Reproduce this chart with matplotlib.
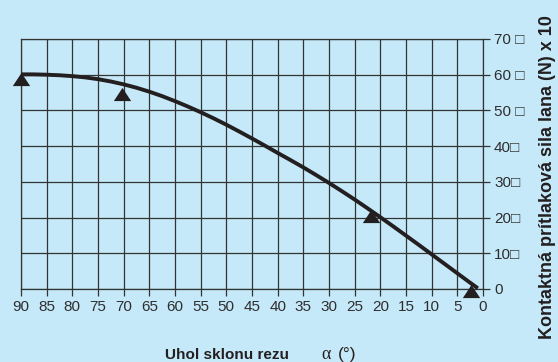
import matplotlib
matplotlib.use("Agg")
import matplotlib.pyplot as plt

# Data
curve_angle = [90, 87.5, 85, 82.5, 80, 77.5, 75, 72.5, 70, 67.5, 65, 62.5, 60, 57.5, 55, 52.5,
               50, 47.5, 45, 42.5, 40, 37.5, 35, 32.5, 30, 27.5, 25, 22.5, 20, 17.5, 15, 12.5,
               10, 7.5, 5, 2.5, 1.0]
curve_force = [60.1, 60.1, 60.0, 59.85, 59.6, 59.25, 58.75, 58.1, 57.3, 56.35, 55.25, 54.0, 52.6, 51.1, 49.5, 47.8,
               46.0, 44.1, 42.15, 40.15, 38.1, 36.1, 34.05, 31.9, 29.7, 27.4, 25.05, 22.6, 20.1, 17.55, 14.95, 12.35,
               9.7, 7.05, 4.4, 1.75, 0.2]
marker_angle = [90, 70.3, 21.8, 2.3]
marker_force = [58.7, 54.5, 20.5, -0.6]
x_ticks = [90, 85, 80, 75, 70, 65, 60, 55, 50, 45, 40, 35, 30, 25, 20, 15, 10, 5, 0]
y_ticks = [0, 10, 20, 30, 40, 50, 60, 70]
y_tick_labels = ["0", "10\u25a1", "20\u25a1", "30\u25a1", "40\u25a1", "50 \u25a1", "60 \u25a1", "70 \u25a1"]
x_label = "Uhol sklonu rezu"
x_label_sym = "\u03b1"
x_label_unit = "(°)"
y_label = "Kontaktná prítlaková sila lana (N) x 10"

bg = "#c6e9f9"
ink = "#231f20"
grid_c = "#333333"

plt.rcParams['font.family'] = ['Liberation Sans', 'DejaVu Sans']

fig = plt.figure(figsize=(5.58, 3.62), dpi=100, facecolor=bg)
ax = fig.add_axes([21/558, 1-289/362, (483-21)/558, (289-39)/362])
ax.set_facecolor(bg)

ax.set_xlim(90, 0)
ax.set_ylim(0, 70)

ax.set_xticks(x_ticks)
ax.set_xticklabels([str(v) for v in x_ticks])
ax.set_yticks(y_ticks)
ax.set_yticklabels(y_tick_labels)
ax.yaxis.tick_right()
ax.tick_params(axis='both', direction='out', length=5, width=0.9, color=grid_c,
               labelsize=11, labelcolor="#2e2e2e")
ax.tick_params(axis='x', pad=3)
ax.tick_params(axis='y', pad=3)

ax.grid(True, color=grid_c, linewidth=0.9)
ax.set_axisbelow(True)
for s in ax.spines.values():
    s.set_color(grid_c)
    s.set_linewidth(0.9)

ax.plot(curve_angle, curve_force, color=ink, linewidth=2.8, solid_capstyle='butt',
        solid_joinstyle='round', zorder=3, clip_on=False)

tri = [(0, 0.76), (-1, -0.76), (1, -0.76)]
ax.plot(marker_angle, marker_force, linestyle='none', marker=tri, markersize=12.5,
        color=ink, markeredgewidth=0, zorder=4, clip_on=False)

# y label (right side)
fig.text(548/558, 1-177/362, y_label, rotation=90, ha='center', va='center',
         fontsize=13, fontweight='bold', color=ink)

# x label
fig.text(289/558, 1-359/362, x_label, ha='right', va='baseline', fontsize=11,
         fontweight='bold', color=ink)
fig.text(321/558, 1-359/362, x_label_sym, ha='left', va='baseline', fontsize=13,
         family=['Liberation Serif', 'DejaVu Serif'], color=ink)
fig.text(338/558, 1-359/362, x_label_unit, ha='left', va='baseline', fontsize=12.5,
         color=ink)

fig.savefig("out.png", dpi=100, facecolor=bg)
